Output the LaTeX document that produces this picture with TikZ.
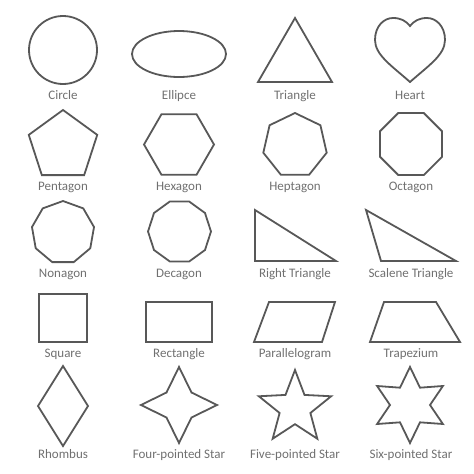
\documentclass[tikz,border=0pt]{standalone}
\usepackage{fontspec}
\setmainfont{Carlito}
\usetikzlibrary{shapes.geometric}
\definecolor{shapegray}{RGB}{88,88,88}
\definecolor{labelgray}{RGB}{112,112,112}
\tikzset{
  outline/.style={draw=shapegray,line width=1.8pt,line join=miter},
  polyshape/.style={outline,regular polygon,inner sep=0pt,outer sep=0pt},
  starshape/.style={outline,star,inner sep=0pt,outer sep=0pt},
  caption/.style={text=labelgray,font=\fontsize{13}{14}\selectfont,anchor=base}
}

\begin{document}
\begin{tikzpicture}[x=1pt,y=-1pt]
\useasboundingbox (0,0) rectangle (474,474);
\draw[outline] (63,50) circle[radius=34];
\draw[outline] (179,54) ellipse[x radius=47,y radius=23];
\draw[outline] (295,18) -- (332,82) -- (258,82) -- cycle;
\draw[outline] (410,82) .. controls (392,66) and (375,55) .. (375,40)
  .. controls (375,26) and (384,18) .. (393,18)
  .. controls (401,18) and (406,21) .. (410,26)
  .. controls (414,21) and (419,18) .. (427,18)
  .. controls (436,18) and (445,26) .. (445,40)
  .. controls (445,55) and (428,66) .. (410,82) -- cycle;
\node[caption] (circle) at (63,99) {Circle};
\node[caption] (ellipse) at (179,99) {Ellipce};
\node[caption] (triangle) at (295,99) {Triangle};
\node[caption] (heart) at (410,99) {Heart};

\node[polyshape,regular polygon sides=5,minimum size=72pt] (pent) at (63,146) {};
\node[polyshape,regular polygon sides=6,minimum size=70pt] (hex) at (179,144.5) {};
\node[polyshape,regular polygon sides=7,minimum size=65pt] (hept) at (295,145.5) {};
\node[polyshape,regular polygon sides=8,minimum size=67pt] (oct) at (411,144) {};
\node[caption] (pentagon) at (63,190) {Pentagon};
\node[caption] (hexagon) at (179,190) {Hexagon};
\node[caption] (heptagon) at (295,190) {Heptagon};
\node[caption] (octagon) at (411,190) {Octagon};

\node[polyshape,regular polygon sides=9,minimum size=63pt] (non) at (63,232.5) {};
\node[polyshape,regular polygon sides=10,minimum size=63pt] (dec) at (179.5,231.5) {};
\draw[outline] (255,210) -- (336,261) -- (255,261) -- cycle;
\draw[outline] (366,210) -- (456,261) -- (381,261) -- cycle;
\node[caption] (nonagon) at (63,277) {Nonagon};
\node[caption] (decagon) at (179,277) {Decagon};
\node[caption] (right) at (295,277) {Right Triangle};
\node[caption] (scalene) at (411,277) {Scalene Triangle};

\draw[outline] (39,294) rectangle (87,342);
\draw[outline] (146,302) rectangle (212,342);
\draw[outline] (269,302) -- (335,302) -- (322,342) -- (254,342) -- cycle;
\draw[outline] (384,302) -- (436,302) -- (460,342) -- (370,342) -- cycle;
\node[caption] (square) at (63,357) {Square};
\node[caption] (rectangle) at (179,357) {Rectangle};
\node[caption] (para) at (295,357) {Parallelogram};
\node[caption] (trap) at (411,357) {Trapezium};

\draw[outline] (63,366) -- (88,406) -- (63,446) -- (38,406) -- cycle;
\node[starshape,star points=4,star point ratio=2.15,minimum size=76pt] (four) at (179,405) {};
\node[starshape,star points=5,star point ratio=2.35,minimum size=76pt] (five) at (295,408) {};
\node[starshape,star points=6,star point ratio=1.9,minimum size=76pt] (six) at (410,405) {};
\node[caption] (rhombus) at (63,458) {Rhombus};
\node[caption] (fourstar) at (179,458) {Four-pointed Star};
\node[caption] (fivestar) at (295,458) {Five-pointed Star};
\node[caption] (sixstar) at (411,458) {Six-pointed Star};
\end{tikzpicture}
\end{document}
